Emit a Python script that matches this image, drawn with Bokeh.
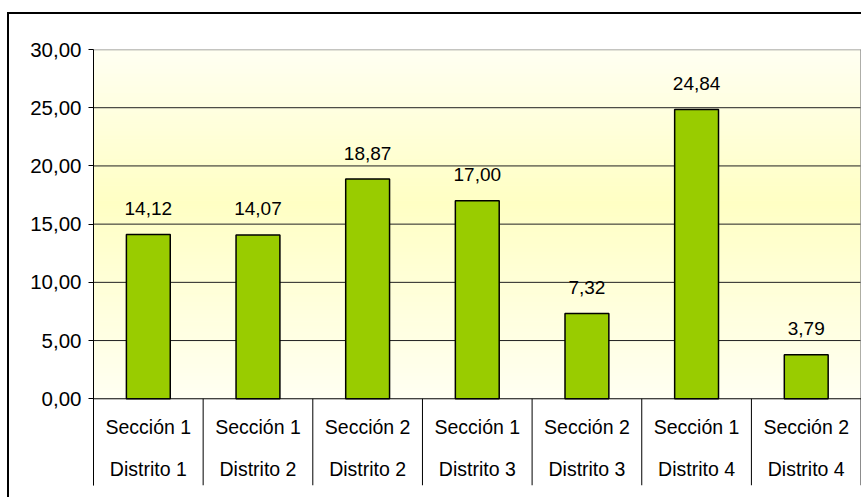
from bokeh.plotting import figure
from bokeh.models import Range1d, FixedTicker, CustomJSTickFormatter
from bokeh.core.properties import value
from bokeh.embed import file_html
from bokeh.resources import INLINE

# ---- data ----
secciones = ["Sección 1", "Sección 1", "Sección 2", "Sección 1", "Sección 2", "Sección 1", "Sección 2"]
distritos = ["Distrito 1", "Distrito 2", "Distrito 2", "Distrito 3", "Distrito 3", "Distrito 4", "Distrito 4"]
valores = [14.12, 14.07, 18.87, 17.00, 7.32, 24.84, 3.79]
y_ticks = [0, 5, 10, 15, 20, 25, 30]

FONT = "Liberation Sans"
n = len(valores)
xs = [i + 0.5 for i in range(n)]
ymax = y_ticks[-1]
ymin = -7.45

p = figure(width=854, height=485, x_range=Range1d(0, n + 0.004), y_range=Range1d(ymin, ymax),
           output_backend="svg", toolbar_location=None, x_axis_location=None,
           min_border_left=84, min_border_right=2, min_border_top=35, min_border_bottom=14,
           margin=(12, 0, 0, 7),
           styles={"border-left": "2px solid black", "border-top": "2px solid black"})
p.outline_line_color = None
p.grid.visible = False
p.background_fill_color = "white"
p.border_fill_color = "white"

# gradient background (decoration)
nb = 90
edges = [ymax * i / nb for i in range(nb + 1)]
peak = 17.0
cols = []
for i in range(nb):
    y = (edges[i] + edges[i + 1]) / 2
    t = 1 - abs(y - peak) / (peak if y < peak else ymax - peak)
    b = int(round(242 - 46 * t))
    cols.append("#%02x%02x%02x" % (255, 255, b))
p.quad(left=0, right=n, bottom=edges[:-1], top=edges[1:], fill_color=cols, line_color=cols, line_width=1)

# gridlines
inner = y_ticks[1:-1]
p.segment(x0=[0] * len(inner), x1=[n] * len(inner), y0=inner, y1=inner, line_color="#202020", line_width=1)
# plot-area border (top and right)
p.segment(x0=[0, n], y0=[ymax, 0], x1=[n, n], y1=[ymax, ymax], line_color="#8a8a8a", line_width=1.5)
# baseline
p.segment(x0=[0], y0=[0], x1=[n], y1=[0], line_color="black", line_width=1)
# category separators
bounds = list(range(n + 1))
p.segment(x0=bounds, y0=[0] * len(bounds), x1=bounds, y1=[ymin] * len(bounds), line_color="black", line_width=1)

# bars
p.vbar(x=xs, top=valores, bottom=0, width=0.4, fill_color="#99CC00", line_color="black", line_width=1.5)

# value labels
etiquetas = [f"{v:.2f}".replace(".", ",") for v in valores]
p.text(x=xs, y=valores, text=etiquetas, text_align="center", text_baseline="alphabetic", y_offset=-26,
       text_font=value(FONT), text_font_size="19px", text_color="black")

# category labels (two rows)
zeros = [0] * n
p.text(x=xs, y=zeros, text=secciones, text_align="center", text_baseline="alphabetic", y_offset=28,
       text_font=value(FONT), text_font_size="19.5px", text_color="black")
p.text(x=xs, y=zeros, text=distritos, text_align="center", text_baseline="alphabetic", y_offset=70,
       text_font=value(FONT), text_font_size="19.5px", text_color="black")

# y axis
ax = p.yaxis[0]
ax.ticker = FixedTicker(ticks=y_ticks)
ax.formatter = CustomJSTickFormatter(code="return tick.toFixed(2).replace('.', ',');")
ax.minor_tick_line_color = None
ax.major_tick_in = 0
ax.major_tick_out = 5
ax.major_tick_line_color = "black"
ax.major_label_standoff = 7
ax.major_label_text_font = FONT
ax.major_label_text_font_size = "20.5px"
ax.major_label_text_color = "black"
ax.axis_line_color = "black"

open("out.html", "w").write(file_html(p, INLINE))
